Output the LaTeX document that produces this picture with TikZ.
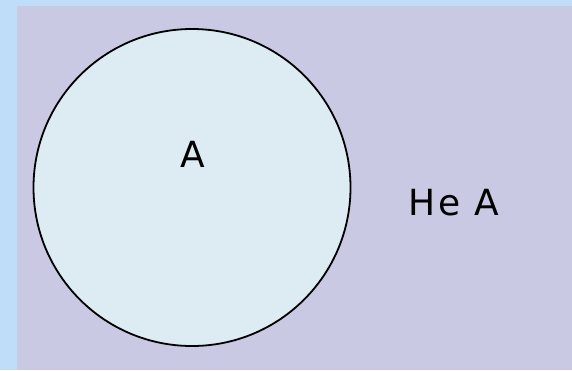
\documentclass[tikz,border=0pt]{standalone}
\usepackage{fontspec}
\setmainfont{DejaVu Sans}
\definecolor{outerblue}{HTML}{BFDCF8}
\definecolor{lavender}{HTML}{C9C9E3}
\definecolor{circfill}{HTML}{DDECF3}
\tikzset{
  lbl/.style={font=\fontsize{36}{36}\selectfont, text=black, inner sep=0pt},
  setcircle/.style={circle, draw=black, line width=1.8pt, fill=circfill, minimum size=317pt, inner sep=0pt}
}
\begin{document}
\begin{tikzpicture}[x=1pt,y=-1pt]
  \useasboundingbox (0,0) rectangle (572,370);
  \fill[outerblue] (0,0) rectangle (572,370);
  \fill[lavender] (17,6) rectangle (572,370);
  \node[setcircle] (c) at (192,187.5) {};
  \node[lbl] (a) at (193,154) {А};
  \node[lbl, anchor=west] (nota) at (408,203) {Н\kern3pt е\hspace{14pt}А};
\end{tikzpicture}
\end{document}
